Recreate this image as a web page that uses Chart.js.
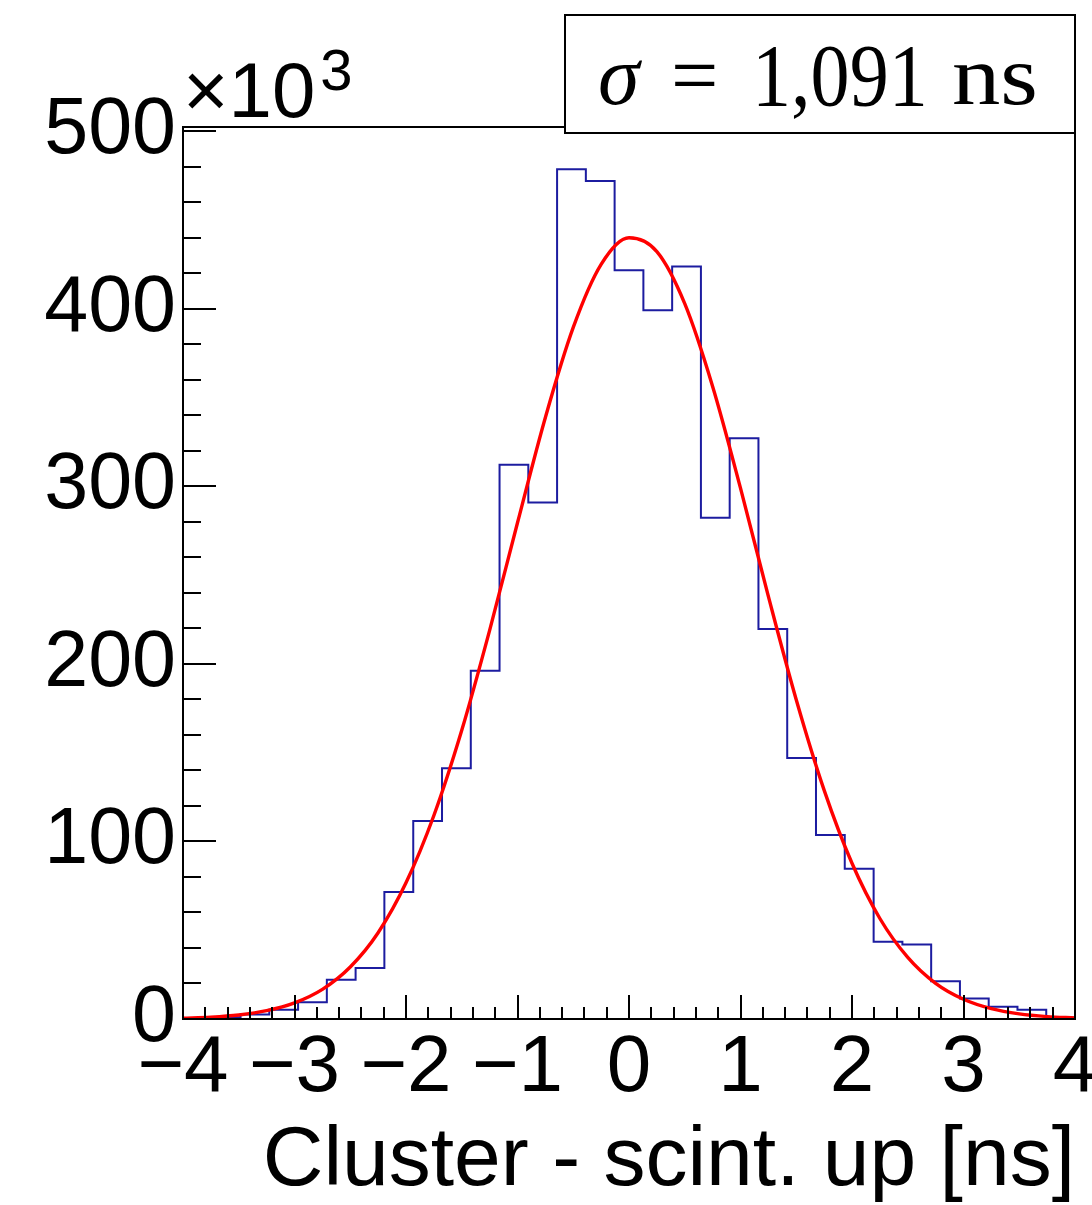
<!DOCTYPE html>
<html>
<head>
<meta charset="utf-8">
<script src="https://cdn.jsdelivr.net/npm/chart.js@4.4.1/dist/chart.umd.min.js"></script>
<style>
  html, body { margin: 0; padding: 0; background: #ffffff; }
  #wrap { width: 1092px; height: 1205px; }
</style>
</head>
<body>
<div id="wrap"><canvas id="c" width="1092" height="1205"></canvas></div>
<script>
// ---- data (counts in units of 10^3) ----
const binEdges = [-4, -3.742, -3.484, -3.226, -2.968, -2.710, -2.452, -2.194, -1.935, -1.677,
  -1.419, -1.161, -0.903, -0.645, -0.387, -0.129, 0.129, 0.387, 0.645, 0.903,
  1.161, 1.419, 1.677, 1.935, 2.194, 2.452, 2.710, 2.968, 3.226, 3.484, 3.742, 4];
const binCounts = [0.5, 1.0, 2.5, 5.2, 9.5, 22.1, 28.7, 71.5, 111.5, 141.3,
  196.1, 312.1, 290.9, 478.6, 472.0, 421.7, 399.2, 423.8, 282.3, 327.1,
  219.6, 147.0, 103.6, 84.6, 43.5, 41.9, 21.2, 11.6, 6.9, 5.2, 0.8];
const fitX = [-4, -3.75, -3.5, -3.25, -3, -2.75, -2.5, -2.25, -2, -1.75, -1.5, -1.25, -1, -0.75, -0.5, -0.25,
  0, 0.25, 0.5, 0.75, 1, 1.25, 1.5, 1.75, 2, 2.25, 2.5, 2.75, 3, 3.25, 3.5, 3.75, 4];
const fitY = [0.46, 1.05, 2.28, 4.67, 9.07, 16.7, 29.3, 48.6, 76.7, 114.6, 162.6, 218.9, 279.5, 338.8, 389.5, 425.0,
  440.0, 432.2, 402.9, 356.3, 299.0, 238.0, 179.8, 128.9, 87.7, 56.6, 34.7, 20.1, 11.1, 5.81, 2.88, 1.36, 0.61];
const xTickLabels = [-4, -3, -2, -1, 0, 1, 2, 3, 4];
const yTickLabels = [0, 100, 200, 300, 400, 500];
const xTitle = 'Cluster - scint. up [ns]';
const sigmaText = ['\u03C3', '=', '1,091', 'ns'];

// build datasets: one point per lower bin edge, plus the closing upper edge
const histPoints = binCounts.map((c, i) => ({ x: binEdges[i], y: c }));
histPoints.push({ x: binEdges[binEdges.length - 1], y: binCounts[binCounts.length - 1] });
const fitPoints = fitX.map((x, i) => ({ x: x, y: fitY[i] }));

const SANS = '"Liberation Sans", Arial, Helvetica, sans-serif';
const SERIF = '"Liberation Serif", "Times New Roman", serif';

const rootDecor = {
  id: 'rootDecor',
  afterDatasetsDraw(chart) {
    const { ctx, chartArea: a, scales: { x, y } } = chart;
    ctx.save();
    ctx.strokeStyle = '#000';
    ctx.lineWidth = 2;
    // y ticks (major 100, minor 20)
    for (let v = yTickLabels[0]; v <= yTickLabels[yTickLabels.length - 1] + 1e-6; v += 20) {
      const py = Math.round(y.getPixelForValue(v));
      const major = Math.abs(v / 100 - Math.round(v / 100)) < 1e-6;
      ctx.beginPath();
      ctx.moveTo(a.left, py);
      ctx.lineTo(a.left + (major ? 33 : 18), py);
      ctx.stroke();
    }
    // x ticks (major 1, minor 0.2)
    for (let k = 0; k <= 40; k++) {
      const v = xTickLabels[0] + k * 0.2;
      const px = Math.round(x.getPixelForValue(v));
      const major = k % 5 === 0;
      ctx.beginPath();
      ctx.moveTo(px, a.bottom);
      ctx.lineTo(px, a.bottom - (major ? 24 : 12));
      ctx.stroke();
    }
    // frame
    ctx.strokeRect(a.left, a.top, a.right - a.left, a.bottom - a.top);

    // x10^3 label
    ctx.fillStyle = '#000';
    ctx.textBaseline = 'alphabetic';
    ctx.textAlign = 'left';
    ctx.font = '78px ' + SANS;
    ctx.fillText('\u00D710', a.left, 117);
    const w = ctx.measureText('\u00D710').width;
    ctx.font = '58px ' + SANS;
    ctx.fillText('3', a.left + w + 5, 90);

    // sigma box
    ctx.fillStyle = '#fff';
    ctx.fillRect(565, 15, 510, 118);
    ctx.strokeRect(565, 15, 510, 118);
    ctx.fillStyle = '#000';
    ctx.font = 'italic 84px ' + SERIF;
    ctx.fillText(sigmaText[0], 598, 104);
    ctx.font = '84px ' + SERIF;
    ctx.fillText(sigmaText[1], 671, 104);
    ctx.save();
    ctx.translate(752, 105);
    ctx.scale(0.93, 1.05);
    ctx.fillText(sigmaText[2], 0, 0);
    ctx.restore();
    ctx.save();
    ctx.translate(952, 104);
    ctx.scale(1.15, 1);
    ctx.fillText(sigmaText[3], 0, 0);
    ctx.restore();
    ctx.restore();
  }
};

new Chart(document.getElementById('c'), {
  type: 'line',
  data: {
    datasets: [
      {
        label: 'fit',
        data: fitPoints,
        borderColor: '#ff0000',
        borderWidth: 3.4,
        pointRadius: 0,
        cubicInterpolationMode: 'monotone',
        fill: false,
        order: 0
      },
      {
        label: 'hist',
        data: histPoints,
        borderColor: '#1c1ca0',
        borderWidth: 2,
        pointRadius: 0,
        stepped: 'before',
        fill: false,
        order: 1
      }
    ]
  },
  options: {
    responsive: false,
    animation: false,
    devicePixelRatio: 1,
    layout: { padding: { left: 0, right: 17, top: 127, bottom: 0 } },
    plugins: { legend: { display: false }, tooltip: { enabled: false }, title: { display: false } },
    scales: {
      x: {
        type: 'linear',
        min: -4, max: 4,
        grid: { display: false, drawTicks: false },
        border: { display: false },
        afterBuildTicks(scale) { scale.ticks = xTickLabels.map(v => ({ value: v })); },
        ticks: {
          padding: 2,
          color: '#000',
          font: { family: SANS, size: 80 },
          maxRotation: 0, autoSkip: false,
          callback: v => (v < 0 ? '\u2212' + Math.abs(v) : String(v))
        },
        title: {
          display: true, text: xTitle, align: 'end', color: '#000',
          font: { family: SANS, size: 84 },
          padding: { top: 0, bottom: -7 }
        },
        afterFit(scale) { scale.height = 186; scale.paddingLeft = 0; scale.paddingRight = 0; }
      },
      y: {
        type: 'linear',
        min: 0, max: 502.4,
        grid: { display: false, drawTicks: false },
        border: { display: false },
        afterBuildTicks(scale) { scale.ticks = yTickLabels.map(v => ({ value: v })); },
        ticks: {
          padding: 7,
          color: '#000',
          font: { family: SANS, size: 79 },
          callback: v => String(v)
        },
        afterFit(scale) { scale.width = 183; scale.paddingTop = 0; scale.paddingBottom = 0; }
      }
    }
  },
  plugins: [rootDecor]
});
</script>
</body>
</html>
